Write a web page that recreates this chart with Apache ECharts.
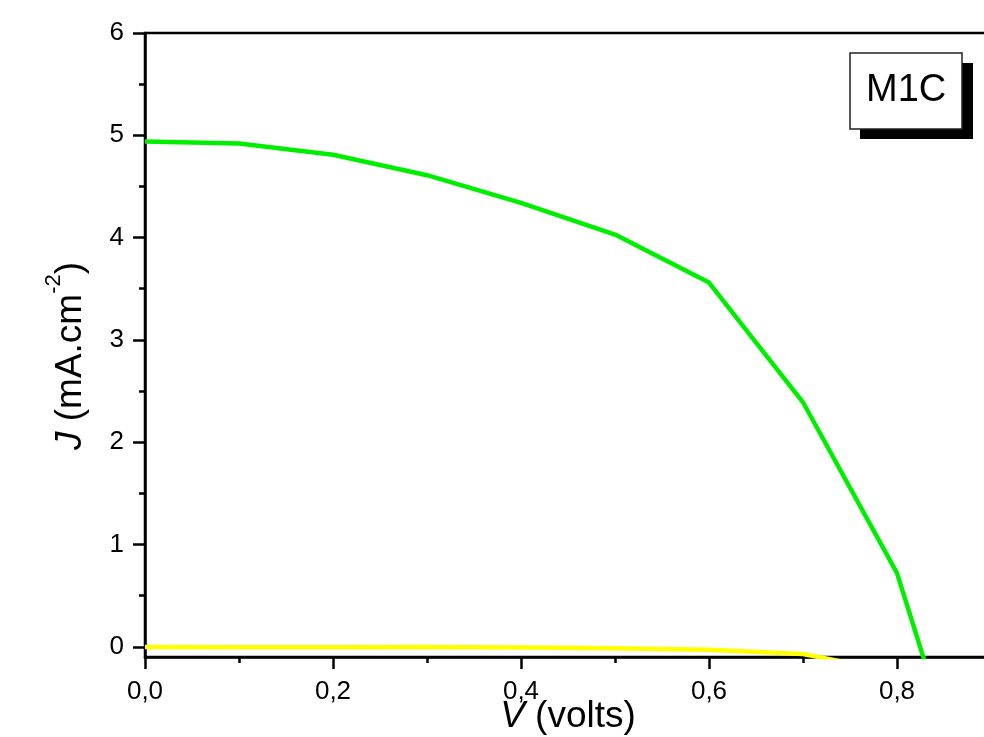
<!DOCTYPE html>
<html>
<head>
<meta charset="utf-8">
<title>M1C J-V</title>
<script src="https://cdn.jsdelivr.net/npm/echarts@6/dist/echarts.min.js"></script>
<style>
  html, body { margin: 0; padding: 0; background: #fff; }
  #chart { width: 984px; height: 737px; }
</style>
</head>
<body>
<div id="chart"></div>
<script>
// values
const vGreen = [0, 0.1, 0.2, 0.3, 0.4, 0.5, 0.6, 0.7, 0.8, 0.83]
const jGreen = [4.94, 4.92, 4.81, 4.61, 4.34, 4.03, 3.56, 2.39, 0.72, -0.16]
const vYellow = [0, 0.1, 0.2, 0.3, 0.4, 0.5, 0.6, 0.7, 0.75]
const jYellow = [-0.003, -0.004, -0.004, -0.003, -0.008, -0.014, -0.028, -0.07, -0.16]

const xMajor = [0, 0.2, 0.4, 0.6, 0.8]
const xMinor = [0.1, 0.3, 0.5, 0.7]
const yMajor = [0, 1, 2, 3, 4, 5, 6]
const yMinor = [0.5, 1.5, 2.5, 3.5, 4.5, 5.5]

const font = 'Liberation Sans, Arial, sans-serif'

function pairs(xs, ys) {
  return xs.map((x, i) => [x, ys[i]])
}

const chart = echarts.init(document.getElementById('chart'))

const option = {
  animation: false,
  backgroundColor: '#fff',
  textStyle: { fontFamily: font },
  title: {
    text: 'M1C',
    left: 850,
    top: 53,
    padding: [18, 16, 18, 16],
    backgroundColor: '#fff',
    borderColor: '#222',
    borderWidth: 1.5,
    textStyle: { fontFamily: font, fontSize: 38, fontWeight: 'normal', color: '#000', lineHeight: 40 }
  },
  // label box shadow
  graphic: [
    {
      type: 'rect',
      left: 860,
      top: 63,
      z: 0,
      shape: { width: 113, height: 76 },
      style: { fill: '#000' }
    }
  ],
  grid: {
    left: 145,
    right: -7,
    top: 33,
    bottom: 80,
    outerBoundsMode: 'none',
    containLabel: false,
    show: true,
    borderColor: '#000',
    borderWidth: 2.5
  },
  xAxis: [
    {
      type: 'value',
      min: 0,
      max: 0.9,
      position: 'bottom',
      name: '{i|V} (volts)',
      nameLocation: 'middle',
      nameGap: 41,
      nameMoveOverlap: false,
      nameTextStyle: {
        fontFamily: font,
        fontSize: 37,
        color: '#000',
        rich: { i: { fontStyle: 'italic', fontSize: 37, fontFamily: font, color: '#000' } }
      },
      axisLine: { show: true, onZero: false, lineStyle: { color: '#000', width: 2.5 } },
      axisTick: { show: true, inside: false, length: 12, customValues: xMajor, lineStyle: { color: '#000', width: 2.5 } },
      axisLabel: {
        customValues: xMajor,
        margin: 22,
        fontFamily: font,
        fontSize: 26,
        color: '#000',
        formatter: v => v.toFixed(1).replace('.', ',')
      },
      splitLine: { show: false }
    },
    {
      type: 'value',
      min: 0,
      max: 0.9,
      position: 'bottom',
      axisLine: { show: false, onZero: false },
      axisTick: { show: true, length: 6, customValues: xMinor, lineStyle: { color: '#000', width: 2.5 } },
      axisLabel: { show: false },
      splitLine: { show: false }
    }
  ],
  yAxis: [
    {
      type: 'value',
      min: -0.1,
      max: 6,
      position: 'left',
      name: '{i|J} (mA.cm{s|-2})',
      nameLocation: 'middle',
      nameGap: 46,
      nameMoveOverlap: false,
      nameTextStyle: {
        fontFamily: font,
        fontSize: 37,
        color: '#000',
        lineHeight: 56,
        padding: [0, 22, 0, 0],
        rich: {
          i: { fontStyle: 'italic', fontSize: 37, fontFamily: font, color: '#000', lineHeight: 56 },
          s: { fontSize: 22, fontFamily: font, color: '#000', verticalAlign: 'top', lineHeight: 8 }
        }
      },
      axisLine: { show: true, onZero: false, lineStyle: { color: '#000', width: 2.5 } },
      axisTick: { show: true, inside: false, length: 12, customValues: yMajor, lineStyle: { color: '#000', width: 2.5 } },
      axisLabel: {
        customValues: yMajor,
        margin: 21,
        fontFamily: font,
        fontSize: 26,
        color: '#000'
      },
      splitLine: { show: false }
    },
    {
      type: 'value',
      min: -0.1,
      max: 6,
      position: 'left',
      axisLine: { show: false, onZero: false },
      axisTick: { show: true, length: 6, customValues: yMinor, lineStyle: { color: '#000', width: 2.5 } },
      axisLabel: { show: false },
      splitLine: { show: false }
    }
  ],
  series: [
    {
      name: 'yellow',
      type: 'line',
      data: pairs(vYellow, jYellow),
      showSymbol: false,
      symbol: 'none',
      clip: true,
      lineStyle: { color: '#ffff00', width: 4.5 },
      z: 2
    },
    {
      name: 'green',
      type: 'line',
      data: pairs(vGreen, jGreen),
      showSymbol: false,
      symbol: 'none',
      clip: true,
      lineStyle: { color: '#00ef00', width: 4.5 },
      z: 3
    }
  ]
}

chart.setOption(option)
</script>
</body>
</html>
